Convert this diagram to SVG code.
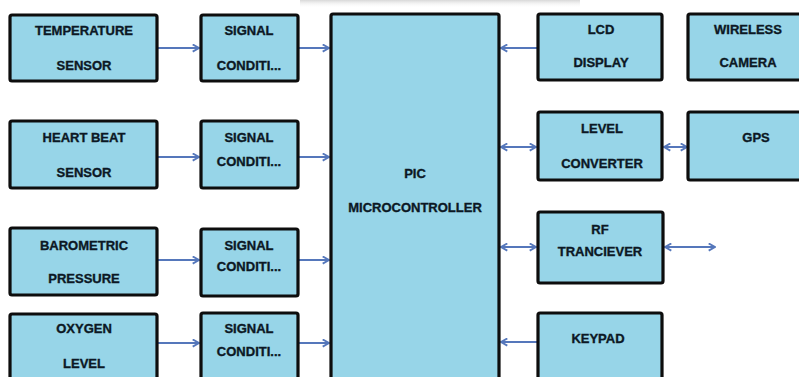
<svg xmlns="http://www.w3.org/2000/svg" width="799" height="377" viewBox="0 0 799 377">
<defs>
<style>
.box{fill:#97d5e8;stroke:#0d0d0d;stroke-width:3.2;}
.t{font-family:"Liberation Sans",Arial,sans-serif;font-weight:bold;font-size:13px;fill:#0c1824;stroke:#0c1824;stroke-width:0.35;text-anchor:middle;}
.c{stroke:#5577bb;stroke-width:2;fill:none;}
</style>
<marker id="ah" viewBox="0 0 10 10" refX="9" refY="5" markerWidth="9" markerHeight="9" markerUnits="userSpaceOnUse" orient="auto-start-reverse">
<path d="M2,1 L9,5 L2,9" fill="none" stroke="#5577bb" stroke-width="2"/>
</marker>
<linearGradient id="sh" x1="0" y1="0" x2="0" y2="1">
<stop offset="0" stop-color="#d8d8d8"/>
<stop offset="1" stop-color="#ffffff" stop-opacity="0"/>
</linearGradient>
</defs>
<rect width="799" height="377" fill="#ffffff"/>
<rect x="300" y="0" width="280" height="8" fill="url(#sh)"/>

<g id="connectors">
<line class="c" x1="158" y1="48" x2="199" y2="48" marker-end="url(#ah)"/>
<line class="c" x1="299" y1="48" x2="329" y2="48" marker-end="url(#ah)"/>
<line class="c" x1="158" y1="157" x2="199" y2="157" marker-end="url(#ah)"/>
<line class="c" x1="299" y1="157" x2="329" y2="157" marker-end="url(#ah)"/>
<line class="c" x1="158" y1="260" x2="199" y2="260" marker-end="url(#ah)"/>
<line class="c" x1="299" y1="260" x2="329" y2="260" marker-end="url(#ah)"/>
<line class="c" x1="158" y1="343" x2="199" y2="343" marker-end="url(#ah)"/>
<line class="c" x1="299" y1="343" x2="329" y2="343" marker-end="url(#ah)"/>
<line class="c" x1="537" y1="48" x2="501" y2="48" marker-end="url(#ah)"/>
<line class="c" x1="501" y1="147" x2="536" y2="147" marker-start="url(#ah)" marker-end="url(#ah)"/>
<line class="c" x1="664" y1="147" x2="687" y2="147" marker-start="url(#ah)" marker-end="url(#ah)"/>
<line class="c" x1="501" y1="247" x2="536" y2="247" marker-start="url(#ah)" marker-end="url(#ah)"/>
<line class="c" x1="665" y1="247" x2="715" y2="247" marker-start="url(#ah)" marker-end="url(#ah)"/>
<line class="c" x1="537" y1="342" x2="501" y2="342" marker-end="url(#ah)"/>
</g>

<g id="temperature">
<rect class="box" x="10" y="15" width="147" height="66" rx="2"/>
<text class="t" x="84" y="35">TEMPERATURE</text>
<text class="t" x="84" y="70">SENSOR</text>
</g>
<g id="signal1">
<rect class="box" x="201" y="15" width="97" height="66" rx="2"/>
<text class="t" x="249" y="35">SIGNAL</text>
<text class="t" x="249" y="70">CONDITI...</text>
</g>
<g id="heartbeat">
<rect class="box" x="10" y="121" width="147" height="67" rx="2"/>
<text class="t" x="84" y="142">HEART BEAT</text>
<text class="t" x="84" y="177">SENSOR</text>
</g>
<g id="signal2">
<rect class="box" x="201" y="121" width="97" height="67" rx="2"/>
<text class="t" x="249" y="142">SIGNAL</text>
<text class="t" x="249" y="166">CONDITI...</text>
</g>
<g id="barometric">
<rect class="box" x="10" y="228" width="147" height="67" rx="2"/>
<text class="t" x="84" y="250">BAROMETRIC</text>
<text class="t" x="84" y="283">PRESSURE</text>
</g>
<g id="signal3">
<rect class="box" x="201" y="229" width="97" height="67" rx="2"/>
<text class="t" x="249" y="250">SIGNAL</text>
<text class="t" x="249" y="271">CONDITI...</text>
</g>
<g id="oxygen">
<rect class="box" x="10" y="314" width="147" height="80" rx="2"/>
<text class="t" x="84" y="333">OXYGEN</text>
<text class="t" x="84" y="368">LEVEL</text>
</g>
<g id="signal4">
<rect class="box" x="201" y="313" width="97" height="80" rx="2"/>
<text class="t" x="249" y="333">SIGNAL</text>
<text class="t" x="249" y="356">CONDITI...</text>
</g>
<g id="pic">
<rect class="box" x="331" y="14" width="168" height="380" rx="2"/>
<text class="t" x="415" y="178">PIC</text>
<text class="t" x="415" y="212">MICROCONTROLLER</text>
</g>
<g id="lcd">
<rect class="box" x="538" y="14" width="124" height="66" rx="2"/>
<text class="t" x="601" y="34">LCD</text>
<text class="t" x="601" y="67">DISPLAY</text>
</g>
<g id="wireless">
<rect class="box" x="688" y="14" width="130" height="66" rx="2"/>
<text class="t" x="748" y="34">WIRELESS</text>
<text class="t" x="748" y="67">CAMERA</text>
</g>
<g id="level">
<rect class="box" x="538" y="112" width="124" height="68" rx="2"/>
<text class="t" x="602" y="133">LEVEL</text>
<text class="t" x="602" y="168">CONVERTER</text>
</g>
<g id="gps">
<rect class="box" x="688" y="112" width="130" height="68" rx="2"/>
<text class="t" x="756" y="142">GPS</text>
</g>
<g id="rf">
<rect class="box" x="538" y="212" width="125" height="71" rx="2"/>
<text class="t" x="600" y="234">RF</text>
<text class="t" x="600" y="256">TRANCIEVER</text>
</g>
<g id="keypad">
<rect class="box" x="538" y="313" width="124" height="80" rx="2"/>
<text class="t" x="598" y="343">KEYPAD</text>
</g>
</svg>
